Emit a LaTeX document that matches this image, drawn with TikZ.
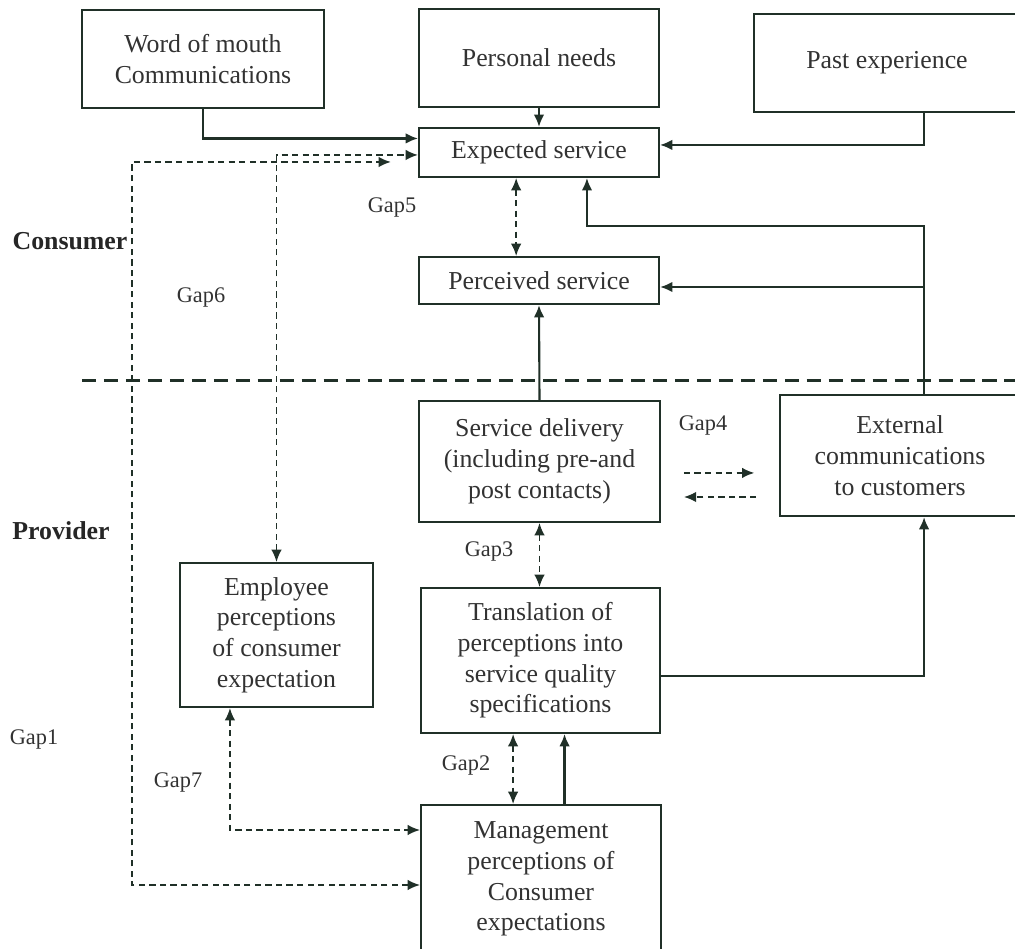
\documentclass[tikz,border=0pt]{standalone}
\usepackage{fontspec}
\setmainfont{Liberation Serif}
\usetikzlibrary{arrows.meta}
\definecolor{inkline}{RGB}{32,48,40}
\definecolor{inktext}{RGB}{50,50,50}

\begin{document}
\begin{tikzpicture}[x=0.02cm, y=-0.02cm,
	every node/.style={font=\fontsize{14.7}{17.5}\selectfont, text=inktext},
	box/.style={draw=inkline, line width=1.2pt, align=center, inner sep=2pt},
	arr/.style={draw=inkline, line width=1.2pt, -{Latex[length=7pt,width=6pt]}},
	gaparr/.style={draw=inkline, line width=1pt, dash pattern=on 3.5pt off 2.5pt, {Latex[length=7pt,width=6pt]}-{Latex[length=7pt,width=6pt]}},
	gapone/.style={draw=inkline, line width=1pt, dash pattern=on 3.5pt off 2.5pt, -{Latex[length=7pt,width=6pt]}},
	gaplabel/.style={font=\fontsize{12.7}{15}\selectfont},
	side/.style={font=\fontsize{14.7}{17.5}\selectfont\bfseries, text=black!85},
	sep/.style={draw=inkline, line width=1.7pt, dash pattern=on 8pt off 4.5pt}]
	\useasboundingbox (0,0) rectangle (1015,948);
	\clip (0,0) rectangle (1015,948);

	\node[box, minimum width=4.84cm, minimum height=1.96cm] (wom) at (203,59) {Word of mouth\\ Communications};
	\node[box, minimum width=4.8cm, minimum height=1.96cm] (needs) at (539,58) {Personal needs};
	\node[box, minimum width=5.32cm, minimum height=1.96cm] (past) at (887,63) {Past experience};
	\node[box, minimum width=4.8cm, minimum height=0.98cm] (expected) at (539,152.5) {Expected service};
	\node[box, minimum width=4.8cm, minimum height=0.94cm] (perceived) at (539,280.5) {Perceived service};
	\node[box, minimum width=4.82cm, minimum height=2.42cm] (delivery) at (539.5,461.5) {Service delivery\\ (including pre-and\\ post contacts)};
	\node[box, minimum width=4.8cm, minimum height=2.42cm] (external) at (900,455.5) {External\\ communications\\ to customers};
	\node[box, minimum width=3.86cm, minimum height=2.88cm] (employee) at (276.5,635) {Employee\\ perceptions\\ of consumer\\ expectation};
	\node[box, minimum width=4.78cm, minimum height=2.9cm] (translation) at (540.5,660.5) {Translation of\\ perceptions into\\ service quality\\ specifications};
	\node[box, minimum width=4.8cm, minimum height=2.96cm] (management) at (541,879) {Management\\ perceptions of\\ Consumer\\ expectations};

	\draw[sep] (82,380) -- (1015,380);
	\node[side] (consumer) at (70,241) {Consumer};
	\node[side] (provider) at (61,531) {Provider};

	\draw[arr] (wom.south) |- ([yshift=8pt]expected.west);
	\draw[arr] (needs.south) -- (expected.north);
	\draw[arr] ([xshift=21pt]past.south) |- ([yshift=4.3pt]expected.east);
	\draw[arr] ([xshift=13.7pt]external.north) -- ++(0,-168) -| ([xshift=27.3pt]expected.south);
	\draw[arr] ([xshift=13.7pt]external.north) |- ([yshift=-3.7pt]perceived.east);
	\draw[arr] (delivery.north) -- (perceived.south);
	\draw[arr] ([xshift=13.4pt]management.north) -- ([xshift=13.4pt]management.north |- translation.south);
	\draw[arr] ([yshift=-8.8pt]translation.east) -| ([xshift=13.7pt]external.south);

	\draw[gaparr] ([xshift=-13pt]expected.south) -- ([xshift=-13pt]perceived.north);
	\draw[gaparr] (delivery.south) -- (delivery.south |- translation.north);
	\draw[gaparr] ([xshift=-15.6pt]translation.south) -- ([xshift=-15.6pt]translation.south |- management.north);
	\draw[gapone] ([xshift=13pt,yshift=-6.5pt]delivery.east) -- ([xshift=-14pt,yshift=-6.5pt]delivery.east -| external.west);
	\draw[gapone] ([xshift=-13pt,yshift=-20.2pt]delivery.east -| external.west) -- ([xshift=13pt,yshift=-20.2pt]delivery.east);
	\draw[gaparr] (employee.north) |- ([yshift=-1.4pt]expected.west);
	\draw[gaparr] ([yshift=-3.4pt]management.west) -- ++(-288,0) |- ([xshift=-15.4pt,yshift=-5.4pt]expected.west);
	\draw[gaparr] ([xshift=-26.5pt]employee.south) |- ([yshift=27.9pt]management.west);

	\node[gaplabel] (gap1) at (34,739) {Gap1};
	\node[gaplabel] (gap2) at (466,765) {Gap2};
	\node[gaplabel] (gap3) at (489,551) {Gap3};
	\node[gaplabel] (gap4) at (703,425) {Gap4};
	\node[gaplabel] (gap5) at (392,207) {Gap5};
	\node[gaplabel] (gap6) at (201,297) {Gap6};
	\node[gaplabel] (gap7) at (178,782) {Gap7};
\end{tikzpicture}
\end{document}
